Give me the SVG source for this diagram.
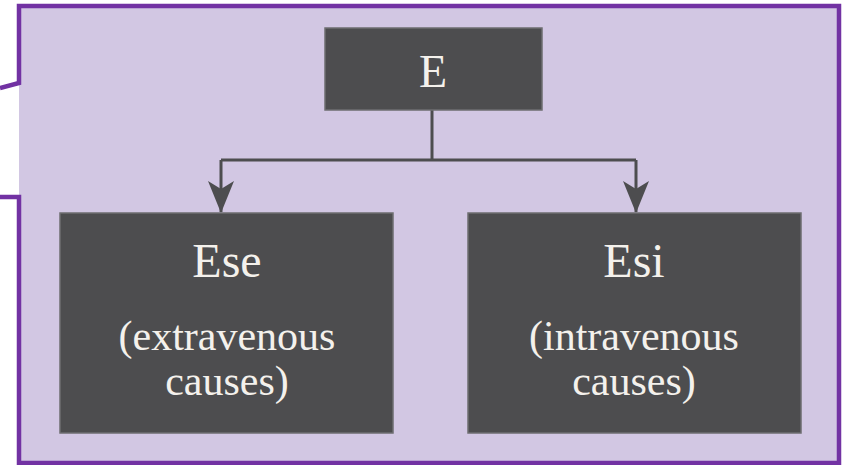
<svg xmlns="http://www.w3.org/2000/svg" width="846" height="465" viewBox="0 0 846 465">
<defs>
<style>
.box{fill:#4d4d4f;stroke:#6e6e70;stroke-width:1.5}
.t{fill:#f4f1ec;font-family:"Liberation Serif","DejaVu Serif",serif;text-anchor:middle}
.conn{fill:none;stroke:#4d4d4f;stroke-width:3}
</style>
<marker id="ah" viewBox="0 0 32 26" refX="31" refY="13" markerWidth="32" markerHeight="26" markerUnits="userSpaceOnUse" orient="auto">
<path d="M0,0 L8,13 L0,26 L32,13 Z" fill="#4d4d4f"/>
</marker>
</defs>
<rect width="846" height="465" fill="#ffffff"/>
<path d="M19,84 L19,6 L839,6 L839,463 L19,463 L19,197 Z" fill="#d2c7e3"/>
<path d="M0,88 L19,83 L19,6 L839,6 L839,463 L19,463 L19,197 L0,197" fill="none" stroke="#7232a3" stroke-width="4.5"/>
<g id="connectors">
<path class="conn" d="M432,110 L432,160"/>
<path class="conn" d="M221,160 L636,160"/>
<path class="conn" d="M221,160 L221,212" marker-end="url(#ah)"/>
<path class="conn" d="M636,160 L636,212" marker-end="url(#ah)"/>
</g>
<g id="node-E">
<rect class="box" x="325" y="28" width="217" height="82"/>
<text class="t" x="433" y="87" font-size="46">E</text>
</g>
<g id="node-Ese">
<rect class="box" x="60" y="213" width="333" height="220"/>
<text class="t" x="227" y="277" font-size="48">Ese</text>
<text class="t" x="227" y="350" font-size="42">(extravenous</text>
<text class="t" x="227" y="395" font-size="42">causes)</text>
</g>
<g id="node-Esi">
<rect class="box" x="468" y="213" width="333" height="220"/>
<text class="t" x="634" y="277" font-size="48">Esi</text>
<text class="t" x="634" y="350" font-size="42">(intravenous</text>
<text class="t" x="634" y="395" font-size="42">causes)</text>
</g>
</svg>
